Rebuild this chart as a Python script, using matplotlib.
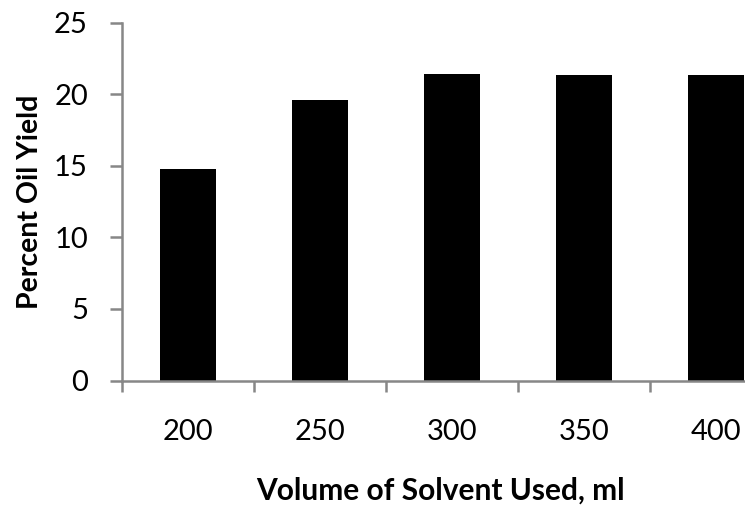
import matplotlib.pyplot as plt

plt.rcParams['font.family'] = ['Lato', 'DejaVu Sans']

# data
volumes = ['200', '250', '300', '350', '400']
oil_yield = [14.8, 19.6, 21.4, 21.3, 21.3]

grey = '#878787'

fig = plt.figure(figsize=(7.45, 5.13), dpi=100)
# plot area runs past the right edge, as in the original
ax = fig.add_axes([122/745, 132.5/513, 660/745, 358/513])

x = range(len(volumes))
ax.bar(x, oil_yield, width=0.42, color='black')

ax.set_xlim(-0.5, 4.5)
ax.set_ylim(0, 25)
ax.set_yticks([0, 5, 10, 15, 20, 25])

for s in ['top', 'right']:
    ax.spines[s].set_visible(False)
for s in ['left', 'bottom']:
    ax.spines[s].set_color(grey)
    ax.spines[s].set_linewidth(1.8)

ax.set_xticks(list(x))
ax.set_xticklabels(volumes)
ax.set_xticks([i - 0.5 for i in range(len(volumes) + 1)], minor=True)
ax.tick_params(axis='x', which='major', length=0, pad=28, labelsize=21)
ax.tick_params(axis='x', which='minor', length=8, width=1.8, color=grey, direction='out')
ax.tick_params(axis='y', length=8.5, width=1.8, color=grey, direction='out', pad=16, labelsize=21)

fig.text(440/745, 1 - 500/513, 'Volume of Solvent Used, ml', fontsize=21.5,
         fontweight='bold', ha='center', va='baseline')
fig.text(38/745, 1 - 201.5/513, 'Percent Oil Yield', fontsize=20.5, fontweight='bold',
         rotation=90, ha='center', va='baseline', rotation_mode='anchor')

fig.savefig('out.png', dpi=100)
